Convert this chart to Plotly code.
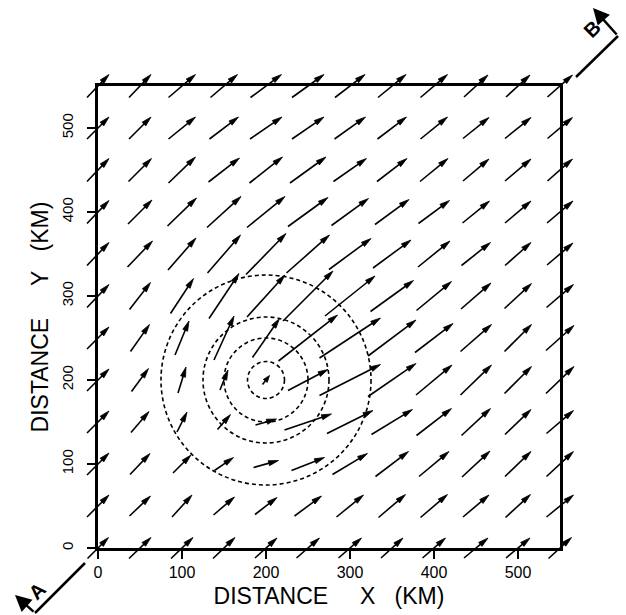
import math
import plotly.graph_objects as go

# ---------------- data ----------------
X_KM = [0, 50, 100, 150, 200, 250, 300, 350, 400, 450, 500, 550]
Y_KM = [0, 50, 100, 150, 200, 250, 300, 350, 400, 450, 500, 550]

# vector components (rows: y = 0 .. 550, columns: x = 0 .. 550)
U = [
    [21, 22, 22, 22, 22, 23, 23, 22, 23, 24, 24, 23],
    [22, 21, 20, 21, 22, 27, 27, 27, 27, 26, 25, 27],
    [22, 20, 18, 19, 25, 33, 35, 33, 30, 28, 26, 27],
    [22, 18, 10, 13, 21, 47, 46, 41, 35, 29, 26, 27],
    [22, 17, 8, 8, 7, 40, 61, 48, 36, 31, 27, 28],
    [22, 19, 14, 20, 27, 59, 61, 48, 38, 31, 27, 28],
    [22, 21, 23, 30, 38, 50, 50, 43, 35, 30, 27, 27],
    [22, 25, 28, 33, 40, 43, 42, 38, 32, 29, 26, 26],
    [22, 24, 29, 34, 38, 40, 37, 34, 31, 27, 26, 26],
    [22, 23, 27, 31, 33, 36, 33, 30, 28, 26, 26, 25],
    [22, 22, 27, 29, 32, 32, 31, 29, 27, 26, 26, 25],
    [22, 22, 27, 27, 31, 32, 30, 28, 27, 24, 24, 25],
]
V = [
    [21, 21, 21, 21, 20, 20, 20, 20, 20, 20, 20, 21],
    [22, 20, 22, 18, 17, 20, 22, 23, 23, 22, 23, 22],
    [22, 21, 18, 13, 7, 13, 21, 25, 25, 26, 25, 25],
    [22, 21, 20, 15, 6, 16, 23, 25, 27, 27, 25, 23],
    [22, 23, 26, 20, 9, 21, 31, 33, 30, 30, 27, 27],
    [22, 27, 34, 44, 39, 46, 40, 36, 29, 27, 27, 25],
    [23, 27, 35, 45, 42, 50, 40, 31, 29, 26, 25, 23],
    [23, 26, 32, 38, 41, 38, 31, 28, 26, 23, 23, 22],
    [23, 24, 28, 31, 31, 29, 27, 25, 23, 22, 22, 22],
    [23, 23, 26, 24, 26, 26, 23, 23, 23, 22, 22, 22],
    [22, 22, 22, 22, 22, 22, 22, 22, 22, 21, 21, 21],
    [23, 23, 23, 23, 23, 23, 23, 23, 23, 22, 22, 22],
]

CIRCLE_CENTER = [200, 200]
CIRCLE_RADII = [22, 50, 75, 125]

X_TICKS = [0, 100, 200, 300, 400, 500]
Y_TICKS = [0, 100, 200, 300, 400, 500]
X_TITLE = "DISTANCE\u00a0\u00a0\u00a0\u00a0\u00a0X\u00a0\u00a0\u00a0(KM)"
Y_TITLE = "DISTANCE\u00a0\u00a0\u00a0\u00a0\u00a0Y\u00a0\u00a0\u00a0(KM)\u00a0\u00a0\u00a0"

# ---------------- layout geometry ----------------
W, H = 626, 615
FX0, FX1 = 98, 560     # frame left/right (px)
FY0, FY1 = 86, 548     # frame top/bottom (px)
XR = [0, 550]
YR = [0, 550]
kx = (FX1 - FX0) / (XR[1] - XR[0])   # px per km
ky = (FY1 - FY0) / (YR[1] - YR[0])

ARROW_SCALE = 1.0 / kx     # km of plot per vector unit
HEAD_LEN = 10.0 / kx       # km
HEAD_HW = 2.6 / kx         # km

# overlay axes covering the whole page, same scale (arrows not clipped)
x2range = [XR[0] - FX0 / kx, XR[1] + (W - FX1) / kx]
y2range = [YR[0] - (H - FY1) / ky, YR[1] + FY0 / ky]

lx, ly, hx, hy = [], [], [], []
for j, y in enumerate(Y_KM):
    for i, x in enumerate(X_KM):
        dx = U[j][i] * ARROW_SCALE
        dy = V[j][i] * ARROW_SCALE
        L = math.hypot(dx, dy)
        ux, uy = dx / L, dy / L
        tx, ty = x - dx / 2, y - dy / 2
        px_, py_ = x + dx / 2, y + dy / 2
        hl = min(HEAD_LEN, 0.6 * L)
        hw = HEAD_HW * (0.8 + 0.2 * hl / HEAD_LEN)
        bx, by = px_ - hl * ux, py_ - hl * uy
        sx, sy = bx + 0.4 * hl * ux, by + 0.4 * hl * uy
        lx += [tx, sx, None]
        ly += [ty, sy, None]
        nx, ny = -uy, ux
        hx += [px_, bx + hw * nx, bx - hw * nx, px_, None]
        hy += [py_, by + hw * ny, by - hw * ny, py_, None]

fig = go.Figure()
fig.add_trace(go.Scatter(x=[CIRCLE_CENTER[0]], y=[CIRCLE_CENTER[1]], mode="markers",
                         marker=dict(size=1, opacity=0), xaxis="x", yaxis="y",
                         hoverinfo="skip", showlegend=False))
fig.add_trace(go.Scatter(x=lx, y=ly, mode="lines", line=dict(color="black", width=1.6),
                         xaxis="x2", yaxis="y2", hoverinfo="skip", showlegend=False))
fig.add_trace(go.Scatter(x=hx, y=hy, mode="lines", fill="toself", fillcolor="black",
                         line=dict(color="black", width=0.8),
                         xaxis="x2", yaxis="y2", hoverinfo="skip", showlegend=False))

shapes = []
for r in CIRCLE_RADII:
    shapes.append(dict(type="circle", xref="x", yref="y",
                       x0=CIRCLE_CENTER[0] - r, x1=CIRCLE_CENTER[0] + r,
                       y0=CIRCLE_CENTER[1] - r, y1=CIRCLE_CENTER[1] + r,
                       line=dict(color="black", width=1.6, dash="4px,3px")))

def P(px, py):
    return px / W, 1 - py / H

# section line A-B decorations
for (a, b) in [((85, 563), (35, 613)), ((576, 77), (618, 36))]:
    x0, y0 = P(*a)
    x1, y1 = P(*b)
    shapes.append(dict(type="line", xref="paper", yref="paper", x0=x0, y0=y0, x1=x1, y1=y1,
                       line=dict(color="black", width=2.5)))

annotations = []
for head, tail in [((15, 595), (35, 613)), ((593, 8), (618, 36))]:
    hxp, hyp = P(*head)
    annotations.append(dict(x=hxp, y=hyp, xref="paper", yref="paper", text="",
                            showarrow=True, arrowhead=2, arrowsize=1.3, arrowwidth=2.5,
                            arrowcolor="black", ax=tail[0] - head[0], ay=tail[1] - head[1],
                            standoff=0))
for label, pos in [("A", (37, 591)), ("B", (592, 29))]:
    xp, yp = P(*pos)
    annotations.append(dict(x=xp, y=yp, xref="paper", yref="paper", text="<b>%s</b>" % label,
                            showarrow=False, textangle=-45, xanchor="center", yanchor="middle",
                            font=dict(family="Liberation Sans", size=20, color="black")))

titlefont = dict(family="Liberation Sans", size=23, color="black")
common = dict(showline=True, mirror=True, linewidth=3, linecolor="black",
              ticks="outside", ticklen=8, tickwidth=2, tickcolor="black",
              showgrid=False, zeroline=False, automargin=False)

fig.update_layout(
    width=W, height=H,
    margin=dict(l=0, r=0, t=0, b=0, pad=0),
    paper_bgcolor="white", plot_bgcolor="rgba(0,0,0,0)",
    showlegend=False, hovermode=False,
    xaxis=dict(domain=[FX0 / W, FX1 / W], range=XR, anchor="y", tickvals=X_TICKS,
               tickfont=dict(family="Liberation Sans", size=16, color="black"),
               title=dict(text=X_TITLE, font=titlefont, standoff=8), **common),
    yaxis=dict(domain=[1 - FY1 / H, 1 - FY0 / H], range=YR, anchor="x", tickvals=Y_TICKS,
               tickangle=-90, ticklabelstandoff=8,
               tickfont=dict(family="Liberation Sans", size=15, color="black"),
               title=dict(text=Y_TITLE, font=titlefont, standoff=4), **common),
    xaxis2=dict(domain=[0, 1], range=x2range, anchor="y2", visible=False, fixedrange=True),
    yaxis2=dict(domain=[0, 1], range=y2range, anchor="x2", visible=False, fixedrange=True),
    shapes=shapes,
    annotations=annotations,
)

fig.write_html("out.html")
